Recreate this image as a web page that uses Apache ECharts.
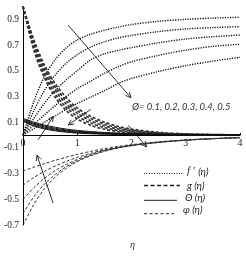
<!DOCTYPE html>
<html>
<head>
<meta charset="utf-8">
<script src="https://cdn.jsdelivr.net/npm/echarts@6/dist/echarts.min.js"></script>
<style>html,body{margin:0;padding:0;background:#fff}#c{width:246px;height:256px}</style>
</head>
<body>
<div id="c"></div>
<script>
// ---- data ----
const eta = [0, 0.2, 0.4, 0.6, 0.8, 1.0, 1.25, 1.5, 1.75, 2.0, 2.5, 3.0, 3.5, 4.0];
const xTicks = [0, 1, 2, 3, 4];
const yTickLabels = [-0.7, -0.5, -0.3, -0.1, 0.1, 0.3, 0.5, 0.7, 0.9];
const phiValues = "Ø= 0.1, 0.2, 0.3, 0.4, 0.5";

// f'(eta), dotted
const fp1 = [0, 0.26, 0.46, 0.59, 0.68, 0.74, 0.785, 0.815, 0.84, 0.86, 0.885, 0.9, 0.91, 0.916];
const fp2 = [0, 0.19, 0.35, 0.47, 0.56, 0.625, 0.685, 0.725, 0.755, 0.775, 0.805, 0.825, 0.836, 0.843];
const fp3 = [0, 0.13, 0.25, 0.35, 0.43, 0.5, 0.585, 0.632, 0.658, 0.68, 0.718, 0.747, 0.765, 0.778];
const fp4 = [0, 0.08, 0.16, 0.23, 0.3, 0.36, 0.42, 0.48, 0.53, 0.57, 0.62, 0.66, 0.69, 0.706];
const fp5 = [0, 0.05, 0.1, 0.15, 0.2, 0.245, 0.295, 0.345, 0.40, 0.44, 0.495, 0.54, 0.575, 0.605];
// g(eta), thick dashed
const g1 = [1, 0.74, 0.54, 0.395, 0.29, 0.21, 0.145, 0.1, 0.068, 0.046, 0.021, 0.009, 0.004, 0.001];
const g2 = [1, 0.72, 0.515, 0.37, 0.265, 0.19, 0.128, 0.086, 0.057, 0.038, 0.016, 0.007, 0.003, 0.001];
const g3 = [1, 0.705, 0.49, 0.345, 0.24, 0.17, 0.11, 0.072, 0.047, 0.031, 0.013, 0.005, 0.002, 0.001];
const g4 = [1, 0.685, 0.465, 0.315, 0.215, 0.147, 0.093, 0.058, 0.036, 0.023, 0.009, 0.003, 0.001, 0];
const g5 = [1, 0.66, 0.44, 0.29, 0.19, 0.125, 0.075, 0.045, 0.027, 0.016, 0.006, 0.002, 0.001, 0];
// Theta(eta), solid
const th1 = [0.105, 0.07, 0.047, 0.032, 0.022, 0.015, 0.01, 0.007, 0.005, 0.003, 0.001, 0.001, 0, 0];
const th2 = [0.11, 0.077, 0.054, 0.038, 0.027, 0.019, 0.013, 0.009, 0.007, 0.005, 0.002, 0.001, 0.001, 0];
const th3 = [0.117, 0.085, 0.062, 0.045, 0.033, 0.024, 0.017, 0.012, 0.009, 0.007, 0.003, 0.002, 0.001, 0];
const th4 = [0.123, 0.092, 0.069, 0.052, 0.039, 0.03, 0.022, 0.016, 0.012, 0.009, 0.004, 0.002, 0.001, 0.001];
const th5 = [0.13, 0.1, 0.077, 0.06, 0.046, 0.036, 0.027, 0.02, 0.015, 0.011, 0.006, 0.003, 0.002, 0.001];
// phi(eta), thin dashed
const ph1 = [-0.28, -0.25, -0.222, -0.196, -0.172, -0.15, -0.127, -0.106, -0.089, -0.075, -0.053, -0.038, -0.027, -0.02];
const ph2 = [-0.39, -0.33, -0.282, -0.24, -0.205, -0.174, -0.142, -0.115, -0.095, -0.078, -0.055, -0.039, -0.028, -0.02];
const ph3 = [-0.5, -0.41, -0.335, -0.275, -0.228, -0.19, -0.151, -0.121, -0.098, -0.08, -0.056, -0.04, -0.028, -0.02];
const ph4 = [-0.61, -0.48, -0.38, -0.305, -0.245, -0.2, -0.157, -0.124, -0.1, -0.082, -0.057, -0.04, -0.029, -0.021];
const ph5 = [-0.7, -0.54, -0.415, -0.325, -0.258, -0.207, -0.161, -0.127, -0.102, -0.083, -0.058, -0.041, -0.029, -0.021];

// annotation arrows in data coordinates: [tail, tip]
const arrows = [
  [[0.83, 0.856], [1.99, 0.29]],
  [[0.28, -0.037], [0.56, 0.146]],
  [[1.25, 0.2], [0.835, 0.078]],
  [[1.94, 0.075], [2.28, -0.093]],
  [[0.553, -0.529], [0.258, -0.156]]
];

const Y_MIN = -0.7, Y_MAX = 1.0;
const GRID = {left: 23, top: 6.5, width: 217, height: 218.5};

const pair = ys => eta.map((x, i) => [x, ys[i]]);
const styles = {
  fp: {type: [1.2, 1.3], width: 1.4, color: '#111'},
  g: {type: [3, 2], width: 1.7, color: '#333'},
  th: {type: 'solid', width: 1, color: '#111'},
  ph: {type: [3, 2], width: 1, color: '#333'}
};
const groups = [
  ['fp', [fp1, fp2, fp3, fp4, fp5]],
  ['g', [g1, g2, g3, g4, g5]],
  ['th', [th1, th2, th3, th4, th5]],
  ['ph', [ph1, ph2, ph3, ph4, ph5]]
];
const series = [];
groups.forEach(([k, arrs]) => arrs.forEach(a => series.push({
  type: 'line', data: pair(a), smooth: 0.3, showSymbol: false, symbol: 'none',
  lineStyle: styles[k], silent: true, animation: false
})));

// x axis sits on y = 0: shift it up from the grid bottom
const zeroOffset = -GRID.height * (0 - Y_MIN) / (Y_MAX - Y_MIN);

const chart = echarts.init(document.getElementById('c'), null, {renderer: 'canvas'});
chart.setOption({
  animation: false,
  grid: Object.assign({containLabel: false, outerBoundsMode: 'none'}, GRID),
  xAxis: {
    type: 'value', min: 0, max: 4, interval: 1, position: 'bottom', offset: zeroOffset,
    axisLine: {onZero: false, lineStyle: {color: '#000', width: 1}},
    axisTick: {show: true, inside: true, length: 2, lineStyle: {color: '#000'}},
    axisLabel: {margin: 3, fontFamily: 'Liberation Serif', fontSize: 10, color: '#222',
      formatter: v => xTicks.includes(Math.round(v)) ? String(Math.round(v)) : ''},
    splitLine: {show: false}
  },
  yAxis: {
    type: 'value', min: Y_MIN, max: Y_MAX, interval: 0.1,
    axisLine: {onZero: false, lineStyle: {color: '#000', width: 1}},
    axisTick: {show: false},
    axisLabel: {margin: 4, fontFamily: 'Liberation Serif', fontSize: 9.5, color: '#222',
      showMaxLabel: false,
      formatter: v => {
        const r = Math.round(v * 10) / 10;
        return yTickLabels.some(t => Math.abs(t - r) < 1e-6) ? r.toFixed(1) : '';
      }},
    splitLine: {show: false}
  },
  series: series
});

// annotations & legend
const gfx = [];
arrows.forEach(([t, h]) => {
  const p0 = chart.convertToPixel({gridIndex: 0}, t);
  const p1 = chart.convertToPixel({gridIndex: 0}, h);
  const ang = Math.atan2(p1[1] - p0[1], p1[0] - p0[0]);
  const L = 6, a = 0.45;
  gfx.push({type: 'line', shape: {x1: p0[0], y1: p0[1], x2: p1[0], y2: p1[1]}, style: {stroke: '#333', lineWidth: 1}});
  gfx.push({type: 'polyline', shape: {points: [
    [p1[0] - L * Math.cos(ang - a), p1[1] - L * Math.sin(ang - a)],
    [p1[0], p1[1]],
    [p1[0] - L * Math.cos(ang + a), p1[1] - L * Math.sin(ang + a)]
  ]}, style: {stroke: '#333', lineWidth: 1, fill: null}});
});
gfx.push({type: 'text', x: 132, y: 107, style: {text: phiValues, font: 'italic 9.5px Lato', fill: '#333', verticalAlign: 'middle'}});
// legend
const leg = [
  {y: 173.5, x2: 183, dash: [1, 1.5], w: 1, tx: 187, ty: 171.5, label: "{s|f ′} {n|(η)}"},
  {y: 185.5, x2: 180, dash: [4, 2.5], w: 1.6, tx: 187, ty: 185.5, label: "{n|g (η)}"},
  {y: 200.3, x2: 177, dash: null, w: 1, tx: 185, ty: 197.5, label: "{n|Θ (η)}"},
  {y: 213.7, x2: 174, dash: [3, 2.5], w: 1, tx: 183, ty: 210, label: "{n|φ (η)}"}
];
leg.forEach(l => {
  gfx.push({type: 'line', shape: {x1: 144, y1: l.y, x2: l.x2, y2: l.y},
    style: {stroke: '#222', lineWidth: l.w, lineDash: l.dash}});
  gfx.push({type: 'text', x: l.tx, y: l.ty, style: {text: l.label, verticalAlign: 'middle',
    rich: {s: {fontFamily: 'Liberation Serif', fontStyle: 'italic', fontSize: 10.5, fill: '#222'},
           n: {fontFamily: 'Lato', fontStyle: 'italic', fontSize: 10, fill: '#222'}}}});
});
gfx.push({type: 'text', x: 130, y: 245, style: {text: 'η', font: 'italic 10px Liberation Serif', fill: '#333', verticalAlign: 'middle'}});
chart.setOption({graphic: gfx});
</script>
</body>
</html>
